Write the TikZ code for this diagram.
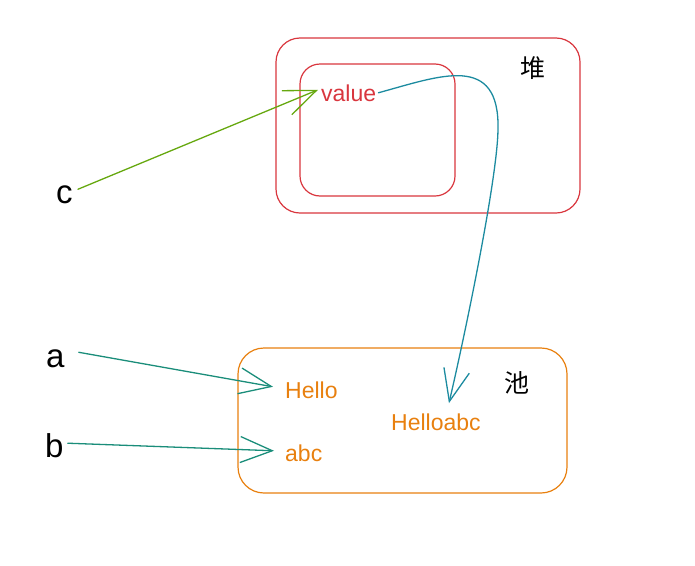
\documentclass[tikz,border=0pt]{standalone}
\usepackage{fontspec}
\setmainfont{Liberation Sans}
\newfontfamily\cjk{Noto Sans CJK SC}
\usetikzlibrary{arrows.meta,calc}
\definecolor{cred}{HTML}{D9363E}
\definecolor{corange}{HTML}{E8800F}
\definecolor{cgreen}{HTML}{66A80F}
\definecolor{cteal}{HTML}{1A8D7A}
\definecolor{cblue}{HTML}{1C8BA0}
\begin{document}
\begin{tikzpicture}[x=1pt,y=-1pt,
  box/.style={draw, line width=1.2pt, inner sep=0pt},
  lbl/.style={font=\fontsize{23}{25}\selectfont, inner sep=0pt, anchor=base west},
  var/.style={font=\fontsize{33}{35}\selectfont, inner sep=0pt, anchor=base west},
  cjkl/.style={font=\cjk\fontsize{25}{27}\selectfont, inner sep=0pt},
  arr/.style={line width=1.3pt, line cap=round, -{Straight Barb[length=32pt,width=26pt,line width=1.3pt]}}]
\useasboundingbox (0,0) rectangle (695,565);
% boxes
\node[box, draw=cred, rounded corners=24pt, minimum width=304pt, minimum height=175pt] (heap) at (428,125.5) {};
\node[box, draw=cred, rounded corners=20pt, minimum width=155pt, minimum height=132pt] (inner) at (377.5,130) {};
\node[box, draw=corange, rounded corners=26pt, minimum width=329pt, minimum height=145pt] (pool) at (402.5,420.5) {};
% labels
\node[cjkl] (dui) at (533,68) {堆};
\node[cjkl] (chi) at (517,383) {池};
\node[lbl, text=cred] (val) at (321,101) {value};
\node[lbl, text=corange] (hello) at (285,398) {Hello};
\node[lbl, text=corange] (habc) at (391,430) {Helloabc};
\node[lbl, text=corange] (abc) at (285,461) {abc};
\node[var] (c) at (56,203) {c};
\node[var] (a) at (46,367) {a};
\node[var] (b) at (45,457) {b};
% arrows
\draw[arr, draw=cgreen] ($(c.east)+(5,-5)$) -- ($(val.west)+(-3,-3)$);
\draw[arr, draw=cteal] ($(a.east)+(14,-6)$) -- ($(hello.west)+(-12,-3)$);
\draw[arr, draw=cteal] ($(b.east)+(4,-2)$) -- ($(abc.west)+(-11,-2)$);
\draw[arr, draw=cblue] ($(val.east)+(2,0)$) .. controls (440,76) and (500,52) .. (498,130)
   .. controls (497,180) and (466,330) .. ($(habc.north)+(13,-10)$);
\end{tikzpicture}
\end{document}
